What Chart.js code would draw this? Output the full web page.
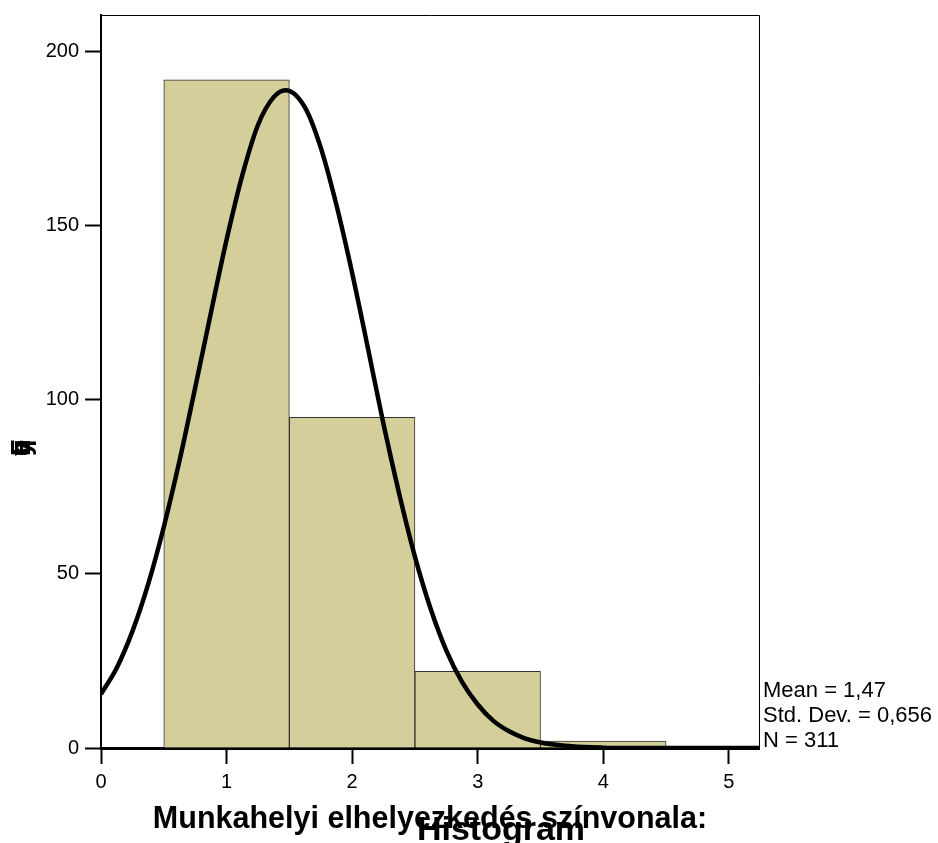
<!DOCTYPE html>
<html>
<head>
<meta charset="utf-8">
<script src="https://cdn.jsdelivr.net/npm/chart.js@4/dist/chart.umd.min.js"></script>
<style>
  body { margin: 0; background: #fff; }
  #wrap { width: 938px; height: 843px; }
</style>
</head>
<body>
<div id="wrap"><canvas id="myChart" width="938" height="843"></canvas></div>
<script>
// histogram bins (bin centre) and counts
var binCentres = [1, 2, 3, 4];
var binCounts = [192, 95, 22, 2];

// normal curve
var curveX = [0, 0.125, 0.25, 0.375, 0.5, 0.625, 0.75, 0.875, 1, 1.125, 1.25, 1.375, 1.47, 1.625, 1.75, 1.875,
              2, 2.125, 2.25, 2.375, 2.5, 2.625, 2.75, 2.875, 3, 3.125, 3.25, 3.375, 3.5, 3.75, 4, 4.25, 4.5, 5, 5.25];
var curveY = [15.5, 23, 33.5, 47, 63.5, 82.5, 103.5, 125, 146, 164.5, 179, 187, 189, 184, 172.5, 156,
              136.5, 115, 93, 73, 55, 40, 28, 19, 12.5, 7.8, 4.8, 2.8, 1.6, 0.5, 0.1, 0, 0, 0, 0];

var xTicks = [0, 1, 2, 3, 4, 5];
var yTicks = [0, 50, 100, 150, 200];

var statLines = ['Mean = 1,47', 'Std. Dev. = 0,656', 'N = 311'];
var xTitle = 'Munkahelyi elhelyezkedés színvonala:';
var chartTitle = 'Histogram';
var yTitle = 'Frequency';

var FONT = '"Liberation Sans", Arial, sans-serif';

var barData = [];
for (let i = 0; i < binCentres.length; i++) {
    barData.push({x: binCentres[i], y: binCounts[i]});
}
var curveData = [];
for (let i = 0; i < curveX.length; i++) {
    curveData.push({x: curveX[i], y: curveY[i]});
}

// frame, stats box and the overlapping texts at the bottom
const extras = {
    id: 'extras',
    afterDraw(chart) {
        const c = chart.ctx;
        const a = chart.chartArea;
        c.save();
        c.strokeStyle = '#000';
        c.lineWidth = 1;
        c.beginPath();
        c.moveTo(a.left, a.top + 0.5);
        c.lineTo(a.right + 0.5, a.top + 0.5);
        c.lineTo(a.right + 0.5, a.bottom);
        c.stroke();

        c.fillStyle = '#000';
        c.font = '22px ' + FONT;
        c.textAlign = 'left';
        c.textBaseline = 'alphabetic';
        for (let i = 0; i < statLines.length; i++) {
            c.fillText(statLines[i], a.right + 4, 697 + i * 25);
        }

        c.textAlign = 'center';
        c.font = 'bold 30.5px ' + FONT;
        c.fillText(xTitle, 430, 828);
        c.font = 'bold 34px ' + FONT;
        c.fillText(chartTitle, 501, 840);

        // y title: glyphs all piled on one spot, rotated
        c.translate(30, 456);
        c.rotate(-Math.PI / 2);
        c.textAlign = 'left';
        c.font = 'bold 27px ' + FONT;
        for (let ch of yTitle) {
            c.fillText(ch, 0, 0);
        }
        c.restore();
    }
};

const ctx = document.getElementById('myChart').getContext('2d');
const myChart = new Chart(ctx, {
    type: 'bar',
    data: {
        datasets: [{
            type: 'line',
            data: curveData,
            borderColor: '#000',
            borderWidth: 4.5,
            pointRadius: 0,
            fill: false,
            cubicInterpolationMode: 'monotone',
            order: 0
        },
        {
            type: 'bar',
            data: barData,
            backgroundColor: 'rgb(211,206,154)',
            borderColor: '#333',
            borderWidth: 1,
            barPercentage: 1,
            categoryPercentage: 1,
            order: 1
        }]
    },
    options: {
        responsive: false,
        animation: false,
        events: [],
        layout: { padding: { top: 15, right: 179, left: 0, bottom: 0 } },
        plugins: { legend: { display: false }, tooltip: { enabled: false } },
        scales: {
            x: {
                type: 'linear',
                offset: false,
                min: 0,
                max: 5.24,
                afterFit: function (s) { s.height = 95; s.paddingLeft = 0; s.paddingRight = 0; },
                afterBuildTicks: function (s) { s.ticks = xTicks.map(v => ({value: v})); },
                ticks: { color: '#000', font: { size: 20, family: FONT }, padding: 6, maxRotation: 0 },
                grid: { offset: false, drawOnChartArea: false, tickLength: 16, tickColor: '#000', tickWidth: 2 },
                border: { color: '#000', width: 3 }
            },
            y: {
                min: 0,
                max: 210.6,
                afterFit: function (s) { s.width = 101; s.paddingTop = 0; s.paddingBottom = 0; },
                afterBuildTicks: function (s) { s.ticks = yTicks.map(v => ({value: v})); },
                ticks: { color: '#000', font: { size: 20, family: FONT }, padding: 6 },
                grid: { drawOnChartArea: false, tickLength: 16, tickColor: '#000', tickWidth: 2 },
                border: { color: '#000', width: 2 }
            }
        }
    },
    plugins: [extras]
});
</script>
</body>
</html>
